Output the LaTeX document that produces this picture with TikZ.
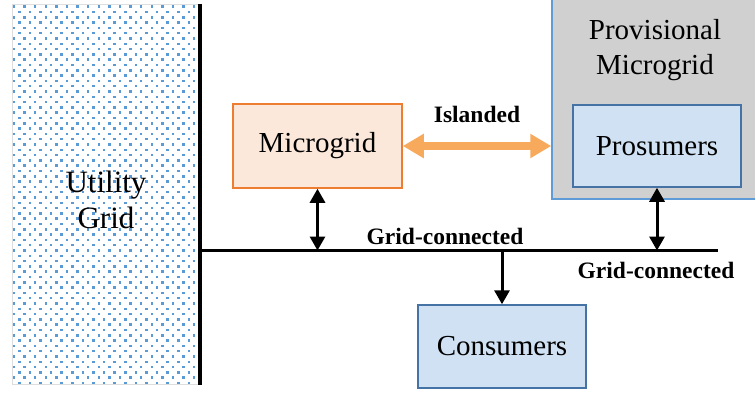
\documentclass[tikz,border=0pt]{standalone}
\usepackage{fontspec}
\setmainfont{Liberation Serif}
\usetikzlibrary{arrows.meta}

\definecolor{dotblue}{RGB}{91,155,213}
\definecolor{gridedge}{RGB}{222,222,222}
\definecolor{mgline}{RGB}{237,125,49}
\definecolor{mgfill}{RGB}{252,232,218}
\definecolor{islarrow}{RGB}{247,170,92}
\definecolor{bluefill}{RGB}{208,225,243}
\definecolor{blueline}{RGB}{70,115,165}
\definecolor{provfill}{RGB}{208,208,208}
\definecolor{provline}{RGB}{95,155,215}

\begin{document}
\begin{tikzpicture}[x=1pt,y=-1pt,line width=1.5pt,
  txt/.style={font=\fontsize{29}{35}\selectfont,align=center},
  unitbox/.style={txt,draw=blueline,fill=bluefill,minimum width=168pt,minimum height=82pt,inner sep=0pt},
  tag/.style={font=\bfseries\fontsize{23.5}{28}\selectfont,inner sep=0pt},
  tie/.style={line width=3pt,{Triangle[width=15pt,length=14pt]}-{Triangle[width=15pt,length=14pt]}},
  feed/.style={line width=3pt,-{Triangle[width=15pt,length=14pt]}}]
  \useasboundingbox (0,0) rectangle (755,394);

  % Utility grid: dotted block with its boundary line.
  \begin{scope}
    \clip (12,4) rectangle (198,384);
    \foreach \r in {0,...,72} {
      \pgfmathsetmacro{\yy}{6.7+5.3*\r}
      \pgfmathsetmacro{\xs}{mod(\r,2)==0 ? 14 : 19.3}
      \foreach \c in {0,...,17}
        \fill[dotblue] ({\xs+10.6*\c-1.25},{\yy-1.25}) rectangle ++(2.5,2.5);
    }
  \end{scope}
  \node[txt,draw=gridedge,line width=1pt,minimum width=186pt,minimum height=380pt,inner sep=0pt] (utility) at (105,194) {};
  \node[txt,font=\fontsize{31}{36}\selectfont] (utilitytxt) at (106,200) {Utility\\Grid};
  \coordinate (gridtop) at (200,4);
  \coordinate (gridbot) at (200,385);
  \draw[line width=3.5pt] (gridtop) -- (gridbot);

  % Bus.
  \coordinate (busL) at (200,250.5);
  \coordinate (busR) at (718,250.5);
  \draw[line width=3pt] (busL) -- (busR);

  % Provisional microgrid with its prosumers.
  \node[draw=provline,fill=provfill,minimum width=206pt,minimum height=204pt,inner sep=0pt] (prov) at (655,97) {};
  \node[txt] (provtxt) at (655,50) {Provisional\\Microgrid};
  \node[unitbox] (pros) at (657,146) {Prosumers};

  % Microgrid.
  \node[txt,draw=mgline,fill=mgfill,minimum width=169pt,minimum height=84pt,inner sep=0pt] (mg) at (317.5,146) {Microgrid};

  % Consumers.
  \node[unitbox,minimum height=83pt] (cons) at (502,346.5) {Consumers};

  % Connections.
  \draw[islarrow,line width=8pt,{Triangle[width=23pt,length=21pt]}-{Triangle[width=23pt,length=21pt]}] (mg.east) -- (prov.west |- mg.east);
  \node[tag] (isl) at (477,114) {Islanded};
  \draw[tie] (mg.south) -- (mg.south |- busL);
  \draw[tie] (pros.south) -- (pros.south |- busL);
  \draw[feed] (cons.north |- busL) -- (cons.north);
  \node[tag] (gc1) at (445,236) {Grid-connected};
  \node[tag] (gc2) at (656,270) {Grid-connected};
\end{tikzpicture}
\end{document}
